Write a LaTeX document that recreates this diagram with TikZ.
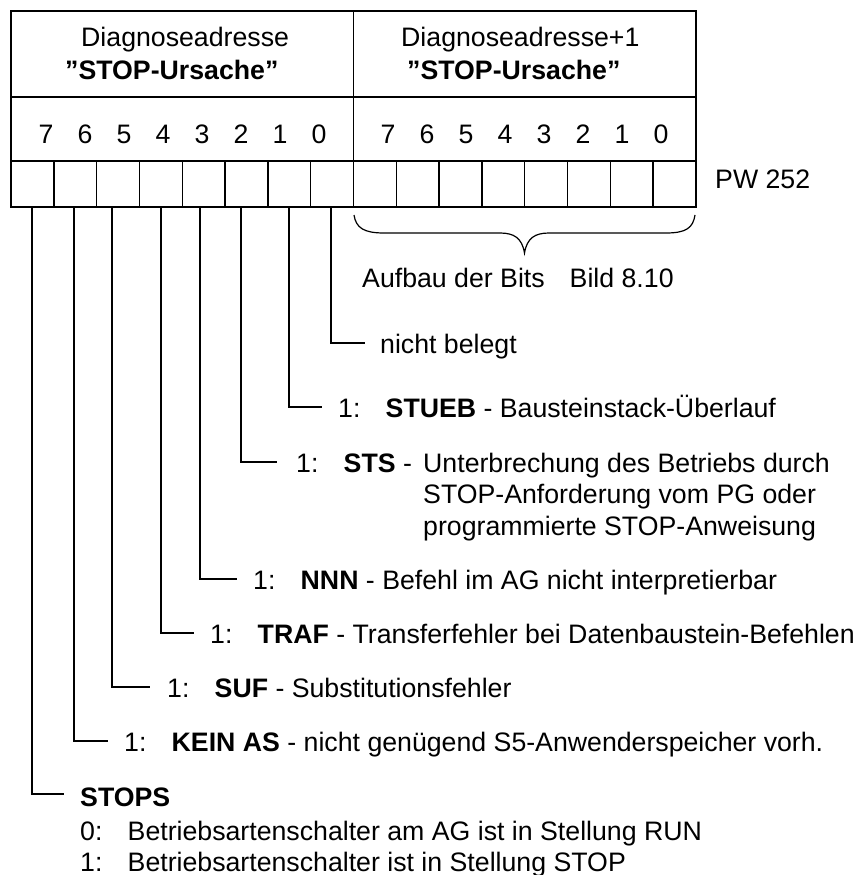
\documentclass[tikz,border=0pt]{standalone}
\usepackage{fontspec}
\setmainfont{Liberation Sans}
\begin{document}
\begin{tikzpicture}[x=1pt,y=-1pt,
  frame/.style={line width=1.4pt},
  leader/.style={line width=1.3pt},
  txt/.style={anchor=base west,inner sep=0pt,font=\fontsize{26.7}{31.5}\selectfont},
  digit/.style={anchor=base,inner sep=0pt,font=\fontsize{26.7}{31.5}\selectfont}]
\newcommand\bitno[1]{\makebox[47.5pt][l]{#1}}
\useasboundingbox (0,0) rectangle (858,875);

% register frame: header row, bit-number row, bit cells
\draw[frame] (11,11) rectangle (696,207);
\draw[frame] (353.5,11) -- (353.5,161);
\draw[frame] (11,97) -- (696,97);
\draw[frame] (11,161) -- (696,161);
\foreach \k in {1,...,15}
  \draw[frame] ({11+42.8125*\k},161) -- ({11+42.8125*\k},207);

% header texts
\node[txt] (hl1) at (81,46.5) {Diagnoseadresse};
\node[txt] (hl2) at (65,80) {\textbf{”STOP-Ursache”}};
\node[txt] (hr1) at (401,46.5) {Diagnoseadresse+1};
\node[txt] (hr2) at (407,80) {\textbf{”STOP-Ursache”}};

% bit numbers
\foreach \d in {7,6,5,4,3,2,1,0} {
  \node[digit] (dl\d) at ({46+39*(7-\d)},143) {\d};
  \node[digit] (dr\d) at ({388+39*(7-\d)},143) {\d};
}

\node[txt] (pw) at (715,188) {PW 252};

% brace below the high byte
\coordinate (brL) at (354,215);
\coordinate (brR) at (695,215);
\coordinate (brT) at (524.5,253);
\draw[line width=1.2pt] (brL) .. controls (356,228) and (364,233) .. (384,233)
  -- (500,233) .. controls (514,233) and (522,238) .. (brT)
  .. controls (527,238) and (535,233) .. (549,233)
  -- (666,233) .. controls (686,233) and (693,228) .. (brR);
\node[txt] (aufbau) at (362,287) {Aufbau der Bits\hspace{25pt}Bild 8.10};

% leaders from the bit cells of the low byte
\foreach \b/\x/\y/\e in {0/331/343/365, 1/289/407/322, 2/241/462/277, 3/200/579/237,
                         4/161/633/194, 5/112/687/150, 6/74/741/108, 7/32/794/64} {
  \coordinate (top\b) at (\x,207);
  \coordinate (end\b) at (\e,\y);
  \draw[leader] (top\b) |- (end\b);
}

% bit descriptions
\node[txt] (t0) at (380,353) {nicht belegt};
\node[txt] (t1) at (338,417) {\bitno{1:}\textbf{STUEB} - Bausteinstack-Überlauf};
\node[txt] (t2) at (296,472) {\bitno{1:}\textbf{STS} -};
\node[txt] (t2a) at (423,472) {Unterbrechung des Betriebs durch};
\node[txt] (t2b) at (423,503.5) {STOP-Anforderung vom PG oder};
\node[txt] (t2c) at (423,535) {programmierte STOP-Anweisung};
\node[txt] (t3) at (253,589) {\bitno{1:}\textbf{NNN} - Befehl im AG nicht interpretierbar};
\node[txt] (t4) at (210,643) {\bitno{1:}\textbf{TRAF} - Transferfehler bei Datenbaustein-Befehlen};
\node[txt] (t5) at (167,697) {\bitno{1:}\textbf{SUF} - Substitutionsfehler};
\node[txt] (t6) at (124,751) {\bitno{1:}\textbf{KEIN AS} - nicht genügend S5-Anwenderspeicher vorh.};
\node[txt] (t7) at (80,806) {\textbf{STOPS}};
\node[txt] (t7a) at (80,840) {\bitno{0:}Betriebsartenschalter am AG ist in Stellung RUN};
\node[txt] (t7b) at (80,871) {\bitno{1:}Betriebsartenschalter ist in Stellung STOP};
\end{tikzpicture}
\end{document}
